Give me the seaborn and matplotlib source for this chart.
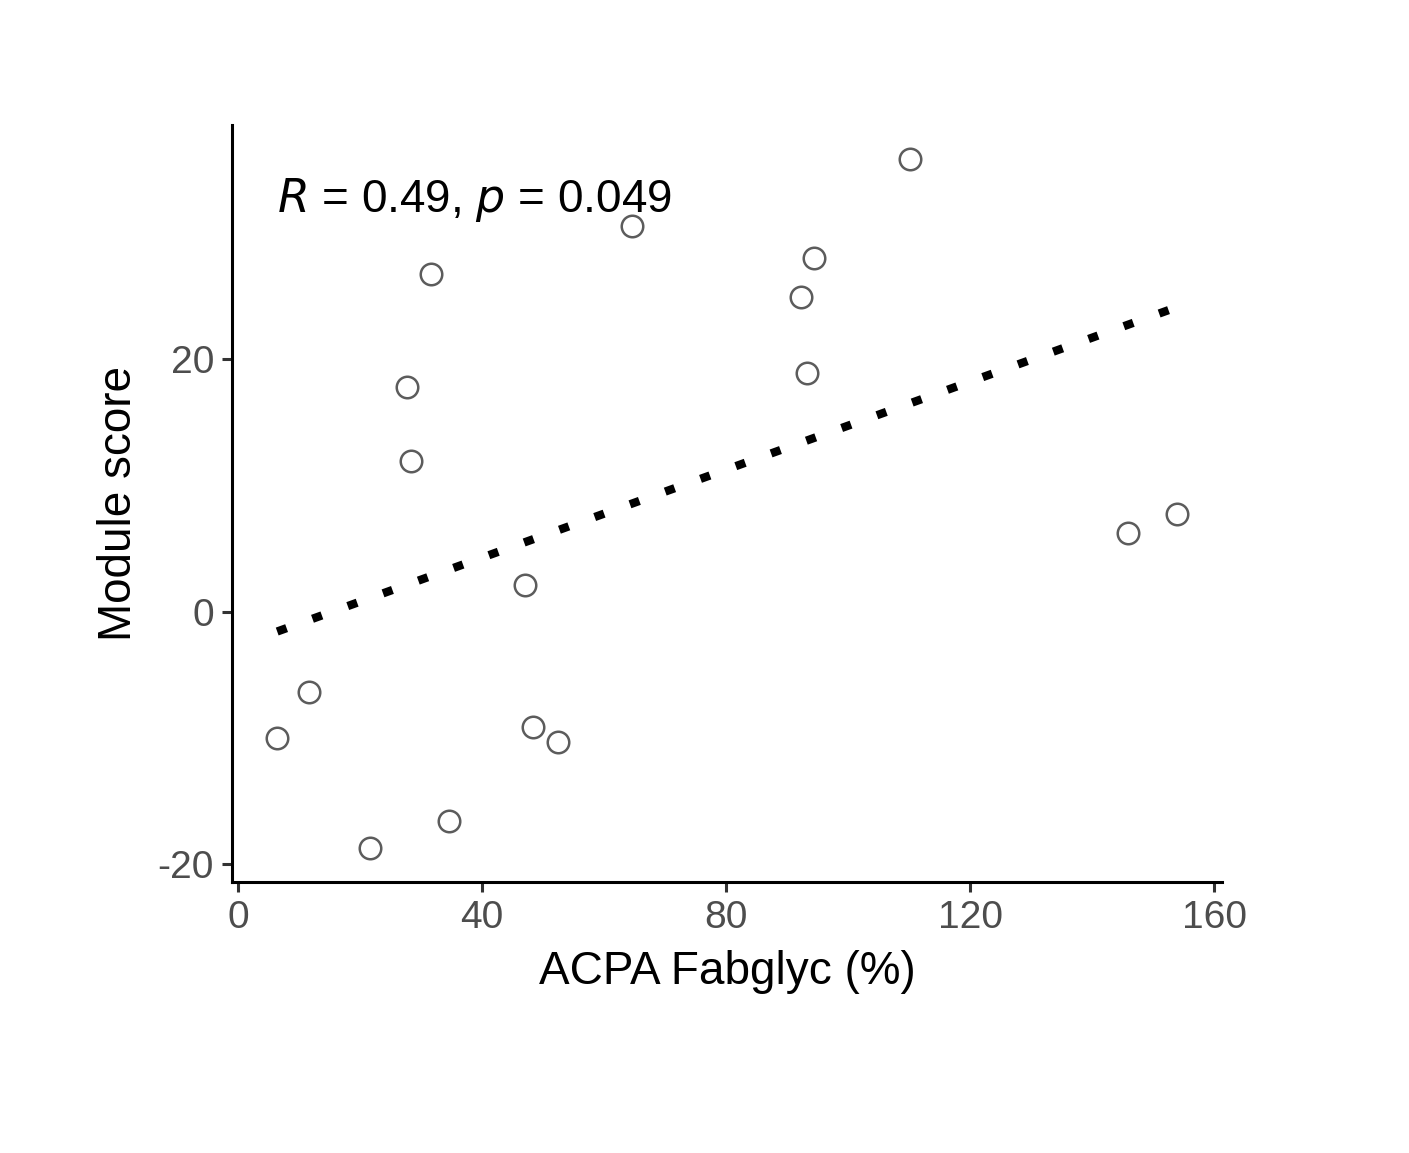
import pandas as pd
import matplotlib.pyplot as plt
import seaborn as sns

# Valeurs
acpa_fabglyc = [110.1, 64.6, 94.4, 31.6, 92.3, 27.6, 93.3, 28.3, 153.9, 145.9,
                47.1, 11.6, 6.4, 48.4, 52.4, 34.5, 21.6]
module_score = [35.8, 30.5, 28.0, 26.7, 24.9, 17.8, 18.9, 11.9, 7.7, 6.2,
                2.1, -6.4, -10.0, -9.1, -10.3, -16.6, -18.7]
x_ticks = [0, 40, 80, 120, 160]
y_ticks = [-20, 0, 20]

df = pd.DataFrame({"acpa": acpa_fabglyc, "score": module_score})

sns.set_style("ticks")
plt.rcParams['font.family'] = ['Liberation Sans', 'DejaVu Sans']
plt.rcParams['axes.unicode_minus'] = False
plt.rcParams['text.color'] = 'black'
plt.rcParams['axes.labelcolor'] = 'black'

fig = plt.figure(figsize=(14.09, 11.53), dpi=100)
ax = fig.add_axes([0.1647, 0.235, 0.7026, 0.6566])

sns.regplot(data=df, x="acpa", y="score", ax=ax, ci=None,
            scatter_kws=dict(s=240, facecolors="white", edgecolors="#333333",
                             linewidths=1.8, zorder=3),
            line_kws=dict(color="black", linewidth=6, dashes=(1.2, 3.3),
                          dash_capstyle="butt", zorder=2))

ax.set_xlim(-1.0, 161.3)
ax.set_ylim(-21.4, 38.5)
ax.set_xticks(x_ticks)
ax.set_yticks(y_ticks)
ax.tick_params(labelsize=28, labelcolor="#4D4D4D", width=2.2, length=7,
               color="#333333", pad=6)
for side in ["left", "bottom"]:
    ax.spines[side].set_linewidth(2.2)
    ax.spines[side].set_color("black")
sns.despine(ax=ax)

ax.set_xlabel("ACPA Fabglyc (%)", fontsize=33, labelpad=10)
ax.set_ylabel("Module score", fontsize=33, labelpad=12)

ax.text(6.4, 32.6, r"$\it{R}$ = 0.49, $\it{p}$ = 0.049", fontsize=33,
        ha="left", va="center")

fig.savefig("out.png", dpi=100)
